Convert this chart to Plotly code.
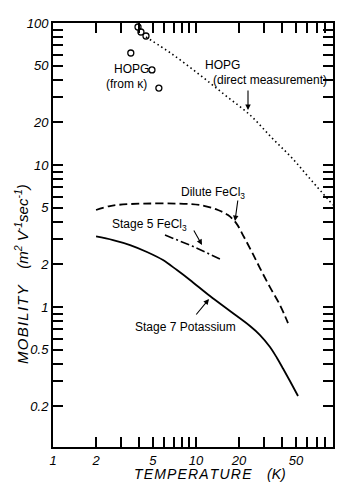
import math
import plotly.graph_objects as go

# ---------------- data ----------------
hopg_kappa_T = [3.5, 3.93, 4.12, 4.47, 4.92, 5.5]
hopg_kappa_mu = [61.5, 93.7, 86.4, 81.0, 46.7, 34.8]

hopg_direct_T = [4.47, 6.79, 10.66, 15.95, 23.86, 34.0, 46.9, 64.7, 90.8]
hopg_direct_mu = [79.7, 60.5, 43.0, 31.1, 22.5, 15.5, 11.2, 7.71, 5.23]

dilute_T = [2.0, 2.5, 3.46, 9.08, 11.56, 14.25, 16.74, 19.04, 21.66, 24.6, 28.0, 32.9, 38.7, 44.0]
dilute_mu = [4.82, 5.14, 5.31, 5.31, 5.14, 4.82, 4.44, 3.91, 3.11, 2.44, 1.88, 1.38, 1.03, 0.77]

stage5_T = [6.07, 9.4, 14.7]
stage5_mu = [3.21, 2.69, 2.18]

potassium_T = [2.0, 2.63, 3.46, 4.54, 5.88, 7.36, 9.08, 12.53, 17.29, 23.86, 28.03,
               32.92, 36.85, 40.6, 45.4, 51.7]
potassium_mu = [3.14, 2.96, 2.73, 2.44, 2.14, 1.82, 1.55, 1.195, 0.937, 0.735, 0.635,
                0.523, 0.4375, 0.369, 0.301, 0.236]

x_tickvals = [1, 2, 3, 4, 5, 6, 7, 8, 9, 10, 20, 30, 40, 50, 60, 70, 80, 90]
x_labeled = [1, 2, 5, 10, 20, 50]
y_tickvals = [0.2, 0.3, 0.4, 0.5, 0.6, 0.7, 0.8, 0.9, 1, 2, 3, 4, 5, 6, 7, 8, 9,
              10, 20, 30, 40, 50, 60, 70, 80, 90, 100]
y_labeled = [0.2, 0.5, 1, 2, 5, 10, 20, 50, 100]


def fmt(v):
    return "%g" % v


x_ticktext = [fmt(v) if v in x_labeled else "" for v in x_tickvals]
y_ticktext = [fmt(v) if v in y_labeled else "" for v in y_tickvals]

# ---------------- figure ----------------
W, H = 341, 482
L, R, T, B = 53, 8, 23, 35
PW, PH = W - L - R, H - T - B


def px(xp):
    return (xp - L) / PW


def py(yp):
    return (H - B - yp) / PH


FONT = "Liberation Sans"
fig = go.Figure()

fig.add_trace(go.Scatter(x=hopg_direct_T, y=hopg_direct_mu, mode="lines",
                         line=dict(color="black", width=1.6, dash="1.5px,3px", shape="spline"),
                         showlegend=False))
fig.add_trace(go.Scatter(x=dilute_T, y=dilute_mu, mode="lines",
                         line=dict(color="black", width=1.8, dash="8px,4px", shape="spline"),
                         showlegend=False))
fig.add_trace(go.Scatter(x=stage5_T, y=stage5_mu, mode="lines",
                         line=dict(color="black", width=1.6, dash="9px,3px,2px,3px"),
                         showlegend=False))
fig.add_trace(go.Scatter(x=potassium_T, y=potassium_mu, mode="lines",
                         line=dict(color="black", width=1.8, shape="spline"),
                         showlegend=False))
fig.add_trace(go.Scatter(x=hopg_kappa_T, y=hopg_kappa_mu, mode="markers",
                         marker=dict(symbol="circle-open", size=6, color="black",
                                     line=dict(width=1.3, color="black")),
                         showlegend=False))

tickfont = dict(family=FONT, size=13, color="#000000", style="italic")

fig.update_layout(
    xaxis=dict(type="log", range=[0, math.log10(90.8)], showgrid=False, zeroline=False,
               showline=True, linecolor="black", linewidth=2, mirror="ticks",
               ticks="inside", ticklen=10, tickwidth=1.5, tickcolor="black",
               tickmode="array", tickvals=x_tickvals, ticktext=x_ticktext,
               tickangle=0, tickfont=tickfont),
    yaxis=dict(type="log", range=[math.log10(0.1033), 2], showgrid=False, zeroline=False,
               showline=True, linecolor="black", linewidth=2, mirror="ticks",
               ticks="inside", ticklen=10, tickwidth=1.5, tickcolor="black",
               tickmode="array", tickvals=y_tickvals, ticktext=y_ticktext,
               tickangle=0, tickfont=tickfont),
)

ann_font = dict(family=FONT, size=12, color="black")
texts = [
    ("HOPG", 131, 69),
    ("(from κ)", 126, 84),
    ("HOPG", 222, 65),
    ("(direct measurement)", 270, 80),
    ("Dilute FeCl<sub>3</sub>", 213, 193),
    ("Stage 5 FeCl<sub>3</sub>", 149, 225),
    ("Stage 7 Potassium", 185, 327),
]
for t, xp, yp in texts:
    fig.add_annotation(text=t, x=px(xp), y=py(yp), xref="paper", yref="paper",
                       showarrow=False, font=ann_font, xanchor="center", yanchor="middle")

arrows = [
    ((248, 89), (248, 110)),
    ((238, 199), (235, 221)),
    ((193, 229), (202, 245)),
    ((195, 316), (209, 299)),
]
for (x0, y0), (x1, y1) in arrows:
    fig.add_annotation(text="", x=px(x1), y=py(y1), xref="x domain", yref="y domain",
                       ax=px(x0), ay=py(y0), axref="x domain", ayref="y domain",
                       showarrow=True, arrowhead=2, arrowsize=1, arrowwidth=1.1,
                       arrowcolor="black")

HS = "\u200a"


def spaced(s):
    return HS.join(list(s))


fig.add_annotation(text=spaced("MOBILITY") + "    (m<sup>2</sup> V<sup>-1</sup>sec<sup>-1</sup>)",
                   x=px(21), y=py(274), xref="paper", yref="paper", textangle=-90,
                   showarrow=False, font=dict(family=FONT, size=15, color="black", style="italic"),
                   xanchor="center", yanchor="middle")
fig.add_annotation(text=spaced("TEMPERATURE") + "    (K)",
                   x=px(210), y=py(474), xref="paper", yref="paper",
                   showarrow=False, font=dict(family=FONT, size=14, color="black", style="italic"),
                   xanchor="center", yanchor="middle")

fig.update_layout(width=W, height=H, margin=dict(l=L, r=R, t=T, b=B, autoexpand=False),
                  plot_bgcolor="white", paper_bgcolor="white", showlegend=False)

fig.write_html("out.html")
